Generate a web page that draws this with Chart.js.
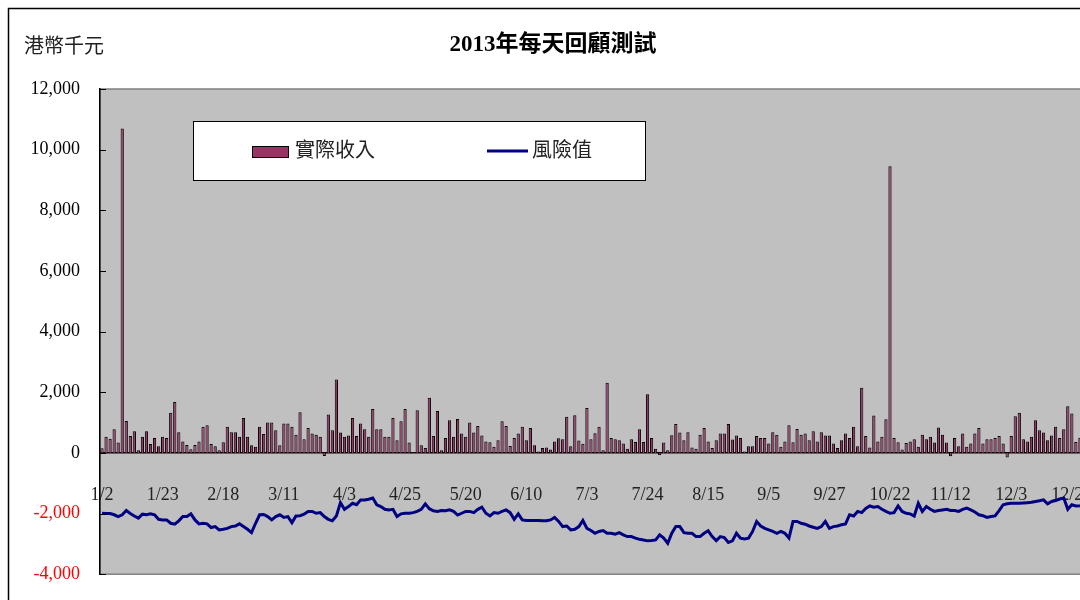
<!DOCTYPE html>
<html>
<head>
<meta charset="utf-8">
<script src="https://cdn.jsdelivr.net/npm/chart.js@4.4.1/dist/chart.umd.min.js"></script>
<style>
  html, body { margin: 0; padding: 0; overflow: hidden; background: #fff; }
  #wrap { width: 1080px; height: 600px; overflow: hidden; }
</style>
</head>
<body>
<div id="wrap"><canvas id="mychart" width="1116" height="605"></canvas></div>
<script>
// 2013 trading days (HK)
var days = [
  '1/2','1/3','1/4','1/7','1/8','1/9','1/10','1/11','1/14','1/15','1/16','1/17','1/18','1/21','1/22','1/23','1/24','1/25','1/28','1/29','1/30','1/31',
  '2/1','2/4','2/5','2/6','2/7','2/8','2/14','2/15','2/18','2/19','2/20','2/21','2/22','2/25','2/26','2/27','2/28',
  '3/1','3/4','3/5','3/6','3/7','3/8','3/11','3/12','3/13','3/14','3/15','3/18','3/19','3/20','3/21','3/22','3/25','3/26','3/27','3/28',
  '4/2','4/3','4/5','4/8','4/9','4/10','4/11','4/12','4/15','4/16','4/17','4/18','4/19','4/22','4/23','4/24','4/25','4/26','4/29','4/30',
  '5/2','5/3','5/6','5/7','5/8','5/9','5/10','5/13','5/14','5/15','5/16','5/20','5/21','5/22','5/23','5/24','5/27','5/28','5/29','5/30','5/31',
  '6/3','6/4','6/5','6/6','6/7','6/10','6/11','6/13','6/14','6/17','6/18','6/19','6/20','6/21','6/24','6/25','6/26','6/27','6/28',
  '7/2','7/3','7/4','7/5','7/8','7/9','7/10','7/11','7/12','7/15','7/16','7/17','7/18','7/19','7/22','7/23','7/24','7/25','7/26','7/29','7/30','7/31',
  '8/1','8/2','8/5','8/6','8/7','8/8','8/9','8/12','8/13','8/15','8/16','8/19','8/20','8/21','8/22','8/23','8/26','8/27','8/28','8/29','8/30',
  '9/2','9/3','9/4','9/5','9/6','9/9','9/10','9/11','9/12','9/13','9/16','9/17','9/18','9/19','9/23','9/24','9/25','9/26','9/27','9/30',
  '10/2','10/3','10/4','10/7','10/8','10/9','10/10','10/11','10/15','10/16','10/17','10/18','10/21','10/22','10/23','10/24','10/25','10/28','10/29','10/30','10/31',
  '11/1','11/4','11/5','11/6','11/7','11/8','11/11','11/12','11/13','11/14','11/15','11/18','11/19','11/20','11/21','11/22','11/25','11/26','11/27','11/28','11/29',
  '12/2','12/3','12/4','12/5','12/6','12/9','12/10','12/11','12/12','12/13','12/16','12/17','12/18','12/19','12/20','12/23','12/24','12/27','12/30','12/31'
]

// 實際收入 (HK$ '000)
var income = [
  150, 530, 470, 780, 340, 10700, 1050, 560, 710, 90,
  530, 710, 290, 490, 220, 530, 490, 1320, 1680, 680,
  380, 260, 120, 260, 380, 860, 910, 290, 220, 90,
  350, 860, 680, 680, 530, 1150, 530, 250, 200, 860,
  620, 1000, 1000, 750, 250, 970, 970, 860, 600, 1340,
  450, 820, 640, 600, 530, -100, 1270, 750, 2420, 670,
  530, 570, 1150, 560, 970, 780, 530, 1450, 780, 780,
  530, 530, 1150, 420, 1040, 1450, 340, 30, 1410, 250,
  160, 1820, 560, 1380, 90, 490, 1080, 530, 1120, 640,
  530, 1000, 670, 890, 570, 380, 350, 200, 420, 1040,
  890, 230, 490, 640, 860, 420, 820, 250, 50, 160,
  180, 110, 380, 480, 450, 1190, 220, 1240, 410, 300,
  1480, 450, 650, 860, 90, 2310, 490, 450, 420, 310,
  140, 450, 360, 780, 360, 1930, 490, 140, -80, 340,
  90, 580, 950, 670, 420, 680, 180, 140, 600, 820,
  380, 160, 420, 640, 640, 950, 440, 570, 490, 50,
  220, 220, 560, 490, 490, 310, 680, 600, 200, 380,
  910, 350, 790, 600, 640, 420, 710, 380, 680, 570,
  570, 310, 160, 420, 640, 490, 860, 220, 2150, 560,
  180, 1230, 380, 530, 1110, 9450, 490, 350, 110, 330,
  380, 450, 200, 600, 450, 530, 340, 840, 600, 340,
  -110, 490, 220, 640, 200, 310, 640, 820, 310, 450,
  450, 490, 560, 310, -150, 560, 1210, 1320, 450, 380,
  530, 1080, 750, 670, 420, 570, 860, 490, 780, 1540,
  1300, 360, 500, 400
]

// 風險值 (HK$ '000)
var risk = [
  -1990, -2000, -2000, -2040, -2100, -2040, -1900, -2000, -2080, -2150,
  -2020, -2040, -2010, -2040, -2190, -2210, -2210, -2320, -2350, -2240,
  -2100, -2100, -2010, -2210, -2340, -2320, -2340, -2460, -2430, -2540,
  -2520, -2490, -2430, -2410, -2340, -2430, -2520, -2630, -2320, -2040,
  -2030, -2100, -2210, -2100, -2040, -2130, -2100, -2300, -2080, -2070,
  -2020, -1930, -1930, -1990, -1970, -2100, -2190, -2240, -2080, -1640,
  -1860, -1770, -1660, -1710, -1550, -1550, -1530, -1490, -1710, -1770,
  -1860, -1880, -1860, -2100, -2010, -1990, -1990, -1970, -1930, -1860,
  -1680, -1840, -1910, -1930, -1900, -1910, -1880, -1930, -2050, -1990,
  -1930, -1930, -1970, -1860, -1790, -1990, -2080, -1970, -1990, -1930,
  -1880, -1970, -2190, -2010, -2210, -2230, -2230, -2230, -2230, -2240,
  -2240, -2210, -2130, -2260, -2430, -2410, -2540, -2520, -2430, -2230,
  -2490, -2560, -2650, -2590, -2560, -2650, -2650, -2680, -2630, -2700,
  -2760, -2760, -2810, -2850, -2870, -2900, -2890, -2870, -2700, -2810,
  -2980, -2650, -2430, -2430, -2630, -2650, -2650, -2760, -2760, -2650,
  -2570, -2760, -2890, -2760, -2790, -2950, -2900, -2650, -2810, -2840,
  -2810, -2590, -2260, -2410, -2490, -2540, -2590, -2650, -2590, -2650,
  -2810, -2260, -2260, -2320, -2350, -2410, -2450, -2490, -2430, -2260,
  -2490, -2430, -2410, -2370, -2340, -2040, -2080, -1930, -1970, -1830,
  -1750, -1790, -1770, -1860, -1930, -1990, -1970, -1750, -1930, -1990,
  -2010, -2080, -1660, -1930, -1770, -1860, -1930, -1900, -1880, -1860,
  -1900, -1900, -1930, -1860, -1820, -1880, -1950, -2040, -2070, -2130,
  -2100, -2080, -1900, -1710, -1680, -1660, -1660, -1660, -1650, -1640,
  -1630, -1600, -1580, -1550, -1680, -1600, -1570, -1520, -1490, -1860,
  -1710, -1750, -1740, -1720
]

var chartTitle = '2013年每天回顧測試'
var unitLabel = '港幣千元'
var labelEvery = 15

var serif = "'Liberation Serif', 'Noto Sans CJK TC', serif"

var framePlugin = {
    id: 'frame',
    beforeDraw: (chart) => {
        var ctx = chart.ctx
        var a = chart.chartArea
        ctx.save()
        ctx.fillStyle = '#fff'
        ctx.fillRect(0, 0, chart.width, chart.height)
        ctx.strokeStyle = '#000'
        ctx.lineWidth = 1.5
        ctx.strokeRect(8.5, 8.5, chart.width + 20, chart.height + 20)

        ctx.fillStyle = '#c0c0c0'
        ctx.fillRect(a.left, a.top, a.right - a.left, a.bottom - a.top)
        ctx.strokeStyle = '#808080'
        ctx.lineWidth = 1.5
        ctx.strokeRect(a.left, a.top, a.right - a.left, a.bottom - a.top)

        ctx.fillStyle = '#000'
        ctx.textBaseline = 'middle'
        ctx.textAlign = 'center'
        ctx.font = 'bold 23px ' + serif
        ctx.fillText(chartTitle, 553, 45)
        ctx.textAlign = 'left'
        ctx.font = '20px ' + serif
        ctx.fillStyle = '#222'
        ctx.fillText(unitLabel, 24, 48)
        ctx.restore()
    },
    afterDraw: (chart) => {
        var ctx = chart.ctx
        var a = chart.chartArea
        var y = chart.scales.y
        ctx.save()
        // inside tick marks on the value axis
        ctx.strokeStyle = '#000'
        ctx.lineWidth = 1
        y.ticks.forEach((t, i) => {
            var py = Math.round(y.getPixelForTick(i)) + 0.5
            ctx.beginPath()
            ctx.moveTo(a.left, py)
            ctx.lineTo(a.left + 6, py)
            ctx.stroke()
        })

        // legend box
        var ds = chart.data.datasets
        ctx.fillStyle = '#fff'
        ctx.fillRect(193.5, 121.5, 452, 59)
        ctx.strokeStyle = '#000'
        ctx.lineWidth = 1
        ctx.strokeRect(193.5, 121.5, 452, 59)

        ctx.fillStyle = ds[0].backgroundColor
        ctx.fillRect(252.5, 146.5, 36, 11)
        ctx.strokeRect(252.5, 146.5, 36, 11)

        ctx.strokeStyle = ds[1].borderColor
        ctx.lineWidth = 3
        ctx.beginPath()
        ctx.moveTo(487, 151)
        ctx.lineTo(528, 151)
        ctx.stroke()

        ctx.fillStyle = '#222'
        ctx.font = '20px ' + serif
        ctx.textBaseline = 'middle'
        ctx.textAlign = 'left'
        ctx.fillText(ds[0].label, 295, 152)
        ctx.fillText(ds[1].label, 532, 152)
        ctx.restore()
    }
}

var canvas = document.getElementById('mychart')

var mychart = new Chart(canvas, {
    type: 'bar',
    data: {
        labels: days,
        datasets: [{
            type: 'bar',
            label: '實際收入',
            data: income,
            backgroundColor: '#993366',
            borderColor: '#000',
            borderWidth: 1,
            barPercentage: 0.8,
            categoryPercentage: 1,
            order: 2
        },
        {
            type: 'line',
            label: '風險值',
            data: risk,
            borderColor: '#000080',
            borderWidth: 3,
            pointRadius: 0,
            tension: 0,
            fill: false,
            order: 1
        }]
    },
    options: {
        responsive: false,
        animation: false,
        layout: {
            padding: { top: 89, bottom: 20, left: 0, right: 22 }
        },
        plugins: {
            legend: { display: false },
            tooltip: { enabled: false }
        },
        scales: {
            x: {
                position: { y: 0 },
                offset: true,
                grid: { display: false, drawTicks: false },
                border: { display: true, color: '#000', width: 1.5 },
                ticks: {
                    autoSkip: false,
                    maxRotation: 0,
                    minRotation: 0,
                    padding: 32,
                    color: '#222',
                    font: { family: serif, size: 18 },
                    callback: function (v, i) {
                        return i % labelEvery === 0 ? days[i] : ''
                    }
                }
            },
            y: {
                min: -4000,
                max: 12000,
                afterFit: (scale) => { scale.width = 100 },
                grid: { display: false, drawTicks: false },
                border: { display: true, color: '#000', width: 1.5 },
                ticks: {
                    stepSize: 2000,
                    padding: 20,
                    font: { family: serif, size: 18 },
                    color: (c) => c.tick.value < 0 ? '#ff0000' : '#000',
                    callback: (v) => v.toLocaleString('en-US')
                }
            }
        }
    },
    plugins: [framePlugin]
})
</script>
</body>
</html>
